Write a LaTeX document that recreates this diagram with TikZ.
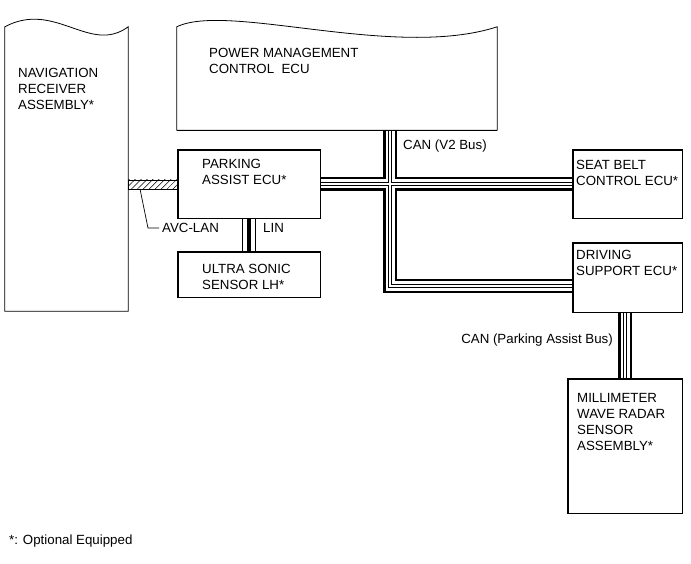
\documentclass[tikz,border=0pt]{standalone}
\usepackage{fontspec}
\setmainfont{Liberation Sans}
\usetikzlibrary{patterns.meta}
\begin{document}
\begin{tikzpicture}[x=1pt,y=-1pt,
  every node/.style={inner sep=0pt, font=\fontsize{13.3}{16}\selectfont},
  boxline/.style={draw=black, line width=0.8pt, line join=miter},
  ecubox/.style={draw=black, line width=0.8pt, rectangle},
  txt/.style={anchor=base west, align=left},
  canbus/.style={draw=black, line width=14pt,
    postaction={draw=white, line width=9pt},
    postaction={draw=black, line width=4.2pt},
    postaction={draw=white, line width=2pt}},
  linbus/.style={draw=black, line width=14pt,
    postaction={draw=white, line width=12pt},
    postaction={draw=black, line width=3.6pt}},
  leader/.style={draw=black, line width=0.7pt},
  hatch/.style={line width=0.6pt,
    pattern={Lines[angle=45, distance=4.2pt, line width=0.5pt]}}
]
\useasboundingbox (0,0) rectangle (691,564);

% frames of the boxes
\node[minimum width=123pt, minimum height=284pt] (nav) at (66.5,169) {};
\node[minimum width=320pt, minimum height=103pt] (pm) at (337,78.5) {};
\node[ecubox, minimum width=142pt, minimum height=68pt] (pa) at (249,184) {};
\node[ecubox, minimum width=142pt, minimum height=45pt] (us) at (249,274.5) {};
\node[ecubox, minimum width=109pt, minimum height=68pt] (sb) at (627.5,184) {};
\node[ecubox, minimum width=109pt, minimum height=69pt] (ds) at (627.5,277.5) {};
\node[ecubox, minimum width=114pt, minimum height=134pt] (mm) at (625,446) {};

% wavy-topped boxes
\draw[boxline] (nav.south west) -- (nav.north west)
  .. controls (55,0) and (90,55) .. (nav.north east) -- (nav.south east) -- cycle;
\draw[boxline] (pm.south west) -- (pm.north west)
  .. controls (228,2) and (395,60) .. (pm.north east) -- (pm.south east) -- cycle;

% buses
\coordinate (j) at (390,184);
\coordinate (k) at (390,286);
\draw[canbus] (pa.east) -- (sb.west) (pm.south -| k) -- (k) -- (k -| ds.west);
\draw[linbus] (pa.south) -- (us.north);
\draw[canbus] (ds.south -| mm.north) -- (mm.north);

% redraw box borders on top
\draw[boxline] (pa.south west) rectangle (pa.north east);
\draw[boxline] (us.south west) rectangle (us.north east);
\draw[boxline] (sb.south west) rectangle (sb.north east);
\draw[boxline] (ds.south west) rectangle (ds.north east);
\draw[boxline] (mm.south west) rectangle (mm.north east);
\draw[boxline] (pm.south west) -- (pm.south east);

% AVC-LAN hatched link
\draw[hatch] (nav.east |- 0,180) rectangle (pa.west |- 0,189);
\node[anchor=west] (avc) at (162,228) {AVC-LAN};
\draw[leader] (140,189) -- (148,228) -- ([xshift=-3pt]avc.west);

% texts (base anchor = baseline of last line)
\node[txt] (navt) at (18,110) {NAVIGATION\\RECEIVER\\ASSEMBLY*};
\node[txt] (pmt) at (209,74) {POWER MANAGEMENT\\CONTROL\ \ ECU};
\node[txt] (pat) at (202,185) {PARKING\\ASSIST ECU*};
\node[txt] (ust) at (202,289) {ULTRA SONIC\\SENSOR LH*};
\node[txt] (sbt) at (576,186) {SEAT BELT\\CONTROL ECU*};
\node[txt] (dst) at (576,276) {DRIVING\\SUPPORT ECU*};
\node[txt] (mmt) at (577,450) {MILLIMETER\\WAVE RADAR\\SENSOR\\ASSEMBLY*};
\node[txt] (canv2) at (403,150) {CAN (V2 Bus)};
\node[txt] (lin) at (263,233) {LIN};
\node[anchor=base east] (canpa) at (613,343) {CAN (Parking Assist Bus)};
\node[txt] (note) at (9,544) {*: Optional Equipped};
\end{tikzpicture}
\end{document}
